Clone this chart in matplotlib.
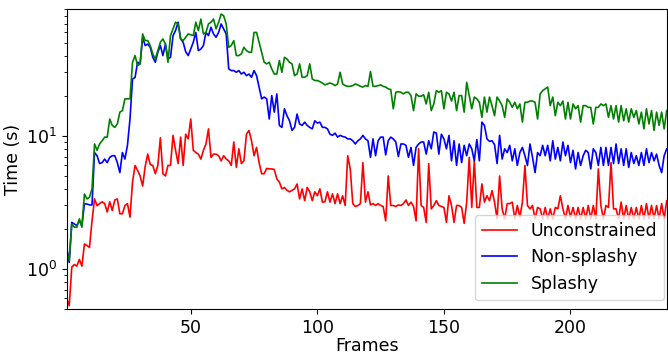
import numpy as np
import matplotlib
matplotlib.use("Agg")
import matplotlib.pyplot as plt

frames = np.arange(1, 239)

unconstrained = [
    0.60, 0.53, 1.03, 1.08, 1.05, 1.18, 1.05, 1.54, 1.50, 1.45,
    2.3, 3.36, 2.99, 3.1, 3.2, 3.1, 2.68, 3.2, 2.75, 3.3,
    3.36, 2.6, 2.6, 3.0, 3.1, 2.45, 4.5, 6.0, 5.5, 5.0,
    4.2, 5.9, 7.3, 6.1, 6.0, 5.2, 6.0, 9.7, 5.2, 5.0,
    6.0, 6.0, 10.1, 7.8, 6.2, 9.8, 6.0, 10.3, 9.5, 13.4,
    7.8, 7.5, 7.3, 6.7, 7.8, 8.7, 11.3, 6.9, 7.3, 7.3,
    7.1, 6.5, 7.1, 6.7, 6.5, 6.0, 9.0, 5.8, 8.0, 6.2,
    6.5, 10.3, 11.0, 9.2, 7.1, 8.2, 6.3, 5.2, 5.2, 5.7,
    5.65, 5.65, 5.6, 4.75, 4.5, 4.0, 4.1, 3.9, 3.8, 3.9,
    4.0, 4.35, 3.36, 4.0, 3.26, 4.1, 3.8, 3.26, 3.8, 3.55,
    4.0, 3.18, 3.2, 3.8, 3.18, 3.67, 3.1, 3.67, 3.1, 3.55,
    3.0, 7.1, 5.65, 3.1, 2.95, 3.0, 3.1, 6.3, 3.18, 3.8,
    3.03, 3.1, 3.0, 3.1, 3.0, 2.95, 2.3, 5.0, 3.0, 3.0,
    2.95, 3.03, 3.0, 3.1, 3.3, 3.0, 3.18, 2.95, 2.3, 8.0,
    3.0, 2.9, 2.24, 6.2, 2.83, 3.0, 3.26, 3.0, 2.95, 2.9,
    2.24, 3.55, 3.0, 2.24, 3.0, 3.0, 2.9, 2.2, 3.18, 6.9,
    2.9, 6.5, 2.9, 2.9, 4.36, 3.18, 3.55, 3.26, 3.88, 3.18,
    2.38, 5.0, 2.83, 2.38, 3.1, 3.1, 3.18, 2.38, 3.0, 2.45,
    3.18, 6.0, 3.0, 2.83, 3.0, 2.38, 2.9, 2.83, 2.38, 2.9,
    2.38, 2.83, 2.38, 2.9, 2.83, 3.55, 2.83, 2.38, 3.0, 2.45,
    2.9, 2.38, 2.9, 2.38, 2.9, 2.38, 3.0, 2.38, 3.0, 2.38,
    5.65, 3.0, 2.38, 3.0, 2.9, 6.3, 2.83, 2.83, 2.38, 3.18,
    2.38, 3.0, 2.38, 2.9, 2.38, 2.9, 2.38, 3.0, 2.38, 3.1,
    2.38, 3.0, 2.38, 3.0, 2.38, 3.1, 2.38, 3.26,
]

non_splashy = [
    1.46, 1.12, 2.24, 2.18, 2.12, 2.3, 2.12, 3.08, 3.08, 3.03,
    3.03, 7.5, 7.1, 6.2, 6.3, 6.7, 6.3, 6.9, 7.1, 7.1,
    6.3, 5.3, 7.5, 6.7, 8.5, 13.4, 26.8, 27.5, 35.8, 34.8,
    55.0, 47.8, 49.0, 46.4, 39.0, 35.8, 42.6, 47.8, 40.2, 49.0,
    37.9, 39.0, 56.8, 62.0, 71.6, 53.6, 50.6, 43.0, 40.2, 45.1,
    50.6, 60.0, 43.8, 45.0, 47.8, 60.0, 56.8, 65.6, 58.4, 55.2,
    60.0, 69.5, 63.8, 58.4, 31.9, 31.0, 31.0, 30.1, 31.0, 29.2,
    30.1, 28.4, 29.2, 27.6, 31.0, 28.4, 23.3, 19.0, 19.6, 19.0,
    13.4, 20.1, 15.1, 20.7, 12.0, 11.6, 16.0, 14.2, 13.0, 11.0,
    11.6, 14.6, 12.3, 12.0, 12.7, 12.0, 11.6, 11.3, 13.0, 12.5,
    12.7, 11.6, 11.6, 11.3, 10.3, 10.1, 10.5, 9.8, 10.1, 9.9,
    9.8, 9.5, 9.5, 9.2, 8.7, 9.2, 9.5, 10.1, 9.5, 9.2,
    6.9, 9.5, 7.1, 9.2, 9.8, 9.8, 7.2, 9.2, 9.8, 9.5,
    9.0, 7.0, 8.7, 8.7, 8.5, 6.9, 8.2, 6.0, 8.2, 8.7,
    9.0, 9.0, 7.3, 9.2, 8.0, 10.7, 10.5, 7.3, 10.3, 9.5,
    8.0, 10.1, 6.5, 9.2, 6.0, 8.7, 6.3, 8.5, 7.1, 8.7,
    8.0, 6.5, 9.4, 6.5, 12.7, 12.0, 9.5, 9.1, 9.2, 8.6,
    6.2, 10.1, 6.7, 8.0, 7.5, 8.5, 6.5, 8.0, 6.0, 7.5,
    8.2, 7.1, 6.0, 8.7, 6.9, 5.3, 7.5, 7.1, 8.5, 7.1,
    8.5, 6.5, 9.2, 6.7, 8.2, 6.5, 9.0, 7.1, 8.5, 6.3,
    7.8, 5.65, 7.5, 6.0, 7.1, 7.8, 7.5, 5.65, 8.0, 7.5,
    6.0, 8.2, 6.0, 8.2, 6.0, 8.2, 6.2, 8.7, 6.2, 8.0,
    6.0, 8.0, 5.8, 7.5, 6.2, 7.1, 6.0, 7.5, 6.0, 8.0,
    6.3, 7.5, 6.5, 7.3, 6.0, 5.3, 7.1, 8.0,
]

splashy = [
    1.35, 1.16, 2.18, 2.06, 2.06, 2.38, 2.06, 3.66, 3.36, 3.46,
    4.0, 8.7, 7.8, 8.7, 9.2, 9.8, 9.8, 13.4, 12.0, 11.6,
    12.3, 15.1, 15.5, 19.0, 19.0, 19.0, 35.8, 40.2, 33.8, 34.8,
    58.4, 52.1, 52.1, 47.8, 41.4, 37.9, 43.8, 50.6, 53.6, 49.2,
    35.8, 56.8, 63.8, 71.6, 69.5, 53.6, 52.1, 55.2, 58.4, 57.6,
    56.8, 71.6, 62.0, 75.6, 58.4, 60.0, 69.5, 71.6, 75.6, 63.8,
    71.6, 82.4, 80.0, 69.5, 46.4, 47.8, 52.1, 40.2, 40.2, 41.4,
    46.4, 43.8, 42.6, 42.6, 60.0, 60.0, 50.6, 42.6, 35.8, 34.8,
    35.8, 31.9, 29.2, 29.2, 36.9, 30.1, 39.0, 37.9, 35.8, 34.8,
    28.4, 29.2, 34.8, 27.6, 27.6, 28.4, 34.8, 26.8, 26.1, 26.1,
    25.6, 25.0, 24.2, 24.6, 25.0, 24.6, 23.9, 24.6, 30.1, 24.6,
    23.9, 23.6, 23.6, 23.9, 24.6, 24.2, 23.6, 23.3, 23.9, 23.6,
    30.5, 23.6, 23.6, 23.9, 24.2, 23.6, 23.3, 22.6, 22.3, 16.0,
    21.3, 21.5, 21.3, 20.7, 21.3, 21.3, 20.1, 15.5, 20.7, 19.9,
    19.9, 20.4, 17.4, 21.3, 15.5, 17.4, 21.9, 21.3, 21.9, 16.0,
    21.3, 20.7, 18.3, 21.3, 15.5, 20.1, 20.1, 15.1, 25.3, 20.1,
    16.0, 19.6, 19.0, 17.9, 13.8, 19.6, 15.1, 19.6, 16.9, 14.2,
    19.6, 18.3, 16.9, 13.8, 19.0, 17.9, 16.4, 17.9, 16.0, 17.4,
    12.7, 17.9, 17.9, 18.3, 18.3, 17.9, 13.4, 20.7, 21.9, 22.6,
    23.3, 16.9, 19.6, 14.2, 17.9, 16.9, 18.3, 13.4, 17.9, 13.4,
    17.4, 16.0, 16.9, 12.7, 16.9, 16.9, 16.4, 16.4, 12.3, 16.4,
    16.4, 17.4, 16.9, 17.4, 13.8, 16.9, 13.4, 16.9, 12.7, 16.9,
    13.0, 16.0, 12.7, 16.0, 13.8, 15.5, 12.3, 15.1, 11.3, 16.0,
    12.3, 15.5, 11.0, 15.1, 12.0, 15.1, 11.3, 15.5,
]

series_labels = ["Unconstrained", "Non-splashy", "Splashy"]
series_colors = ["red", "blue", "green"]
xticks = [50, 100, 150, 200]

plt.rcParams["font.size"] = 12.5
fig = plt.figure(figsize=(6.68, 3.54), dpi=100)
ax = fig.add_axes([66.7 / 668, 45 / 354, 600 / 668, 300 / 354])

for vals, lab, col in zip([unconstrained, non_splashy, splashy], series_labels, series_colors):
    ax.plot(frames, vals, color=col, linewidth=1.2, label=lab)

ax.set_yscale("log")
ax.set_xlim(frames[0], frames[-1])
ax.set_ylim(0.5, 90)
ax.set_xticks(xticks)
ax.tick_params(labelsize=12.5)
ax.set_xlabel("Frames", fontsize=12.5, labelpad=0)
ax.set_ylabel("Time (s)", fontsize=12.5, labelpad=3)
ax.legend(loc="lower right", fontsize=12.5, bbox_to_anchor=(664 / 668, 1 - 300 / 354),
          bbox_transform=fig.transFigure, borderaxespad=0)

fig.savefig("out.png", dpi=100)
